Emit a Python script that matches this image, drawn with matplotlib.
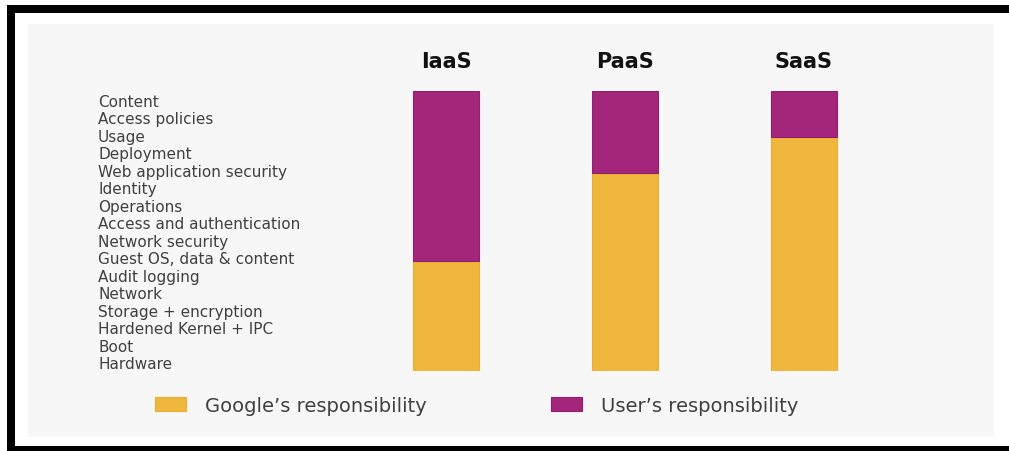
import matplotlib
matplotlib.use("Agg")
import matplotlib.pyplot as plt
from matplotlib.patches import Rectangle

# ---- data ----
models = ["IaaS", "PaaS", "SaaS"]
layers = ["Content", "Access policies", "Usage", "Deployment",
          "Web application security", "Identity", "Operations",
          "Access and authentication", "Network security",
          "Guest OS, data & content", "Audit logging", "Network",
          "Storage + encryption", "Hardened Kernel + IPC", "Boot", "Hardware"]
google_layers = [6.3, 11.3, 13.4]   # layers (from bottom) covered by Google
user_layers = [9.7, 4.7, 2.6]       # remaining layers covered by user
legend_labels = ["Google\u2019s responsibility", "User\u2019s responsibility"]

YELLOW = "#EFB73E"
PURPLE = "#A4267A"

W, H = 1009, 452
fig = plt.figure(figsize=(W / 100, H / 100), dpi=100)
fig.patch.set_facecolor("white")

def fx(px):
    return px / W

def fy(py):
    return 1 - py / H

# background panel
fig.patches.append(Rectangle((fx(28), fy(438)), fx(994) - fx(28), fy(25) - fy(438),
                             transform=fig.transFigure, facecolor="#F7F7F7",
                             edgecolor="none", zorder=-2))
# black frame pieces
for (x0, y0, x1, y1) in [(7, 6, 1009, 14), (7, 6, 15, 452), (7, 447, 1009, 452)]:
    fig.patches.append(Rectangle((fx(x0), fy(y1)), fx(x1) - fx(x0), fy(y0) - fy(y1),
                                 transform=fig.transFigure, facecolor="black",
                                 edgecolor="none", zorder=-1))

# axes placement: x pixels 400..850, y pixels 92..372
ax_l, ax_r, ax_t, ax_b = 400, 850, 92, 372
ax = fig.add_axes([fx(ax_l), fy(ax_b), fx(ax_r) - fx(ax_l), fy(ax_t) - fy(ax_b)])
ax.set_zorder(5)
ax.set_facecolor("none")
spacing = 179.0
ax.set_xlim(-(446 - ax_l) / spacing, (ax_r - 446) / spacing)
ax.set_ylim(0, len(layers))

xs = list(range(len(models)))
bw = 66 / spacing
b1 = ax.bar(xs, google_layers, width=bw, color=YELLOW, edgecolor="#E8AE2C",
            linewidth=0.8, label=legend_labels[0])
b2 = ax.bar(xs, user_layers, bottom=google_layers, width=bw, color=PURPLE,
            edgecolor="#951C6C", linewidth=0.8, label=legend_labels[1])

for s in ax.spines.values():
    s.set_visible(False)
ax.set_xticks([])
ypos = [len(layers) - 0.5 - i for i in range(len(layers))]
ax.set_yticks(ypos)
ax.set_yticklabels(layers, fontsize=11, color="#404040")
ax.tick_params(axis="y", length=0, pad=(ax_l - 98) * 0.72)
for lab in ax.get_yticklabels():
    lab.set_horizontalalignment("left")

# model titles (30 px above bar tops)
title_y = len(layers) + 30 / (ax_b - ax_t) * len(layers)
for x, m in zip(xs, models):
    ax.text(x, title_y, m, ha="center", va="center",
            fontsize=15, fontweight="bold", color="#111111", clip_on=False)

# legend: two separate entries anchored at their square positions
fs = 14
em = fs * 100 / 72
for handle, lab, sq_x in [(b1, legend_labels[0], 155), (b2, legend_labels[1], 551)]:
    lg = fig.legend(handles=[handle], labels=[lab], loc="center left",
                    bbox_to_anchor=(fx(sq_x), fy(406.5)), frameon=False,
                    fontsize=fs, handlelength=31 / em, handleheight=15 / em,
                    handletextpad=19 / em, borderpad=0, borderaxespad=0,
                    labelcolor="#404040")
    lg.set_zorder(6)

fig.savefig("out.png", dpi=100, facecolor="white")
